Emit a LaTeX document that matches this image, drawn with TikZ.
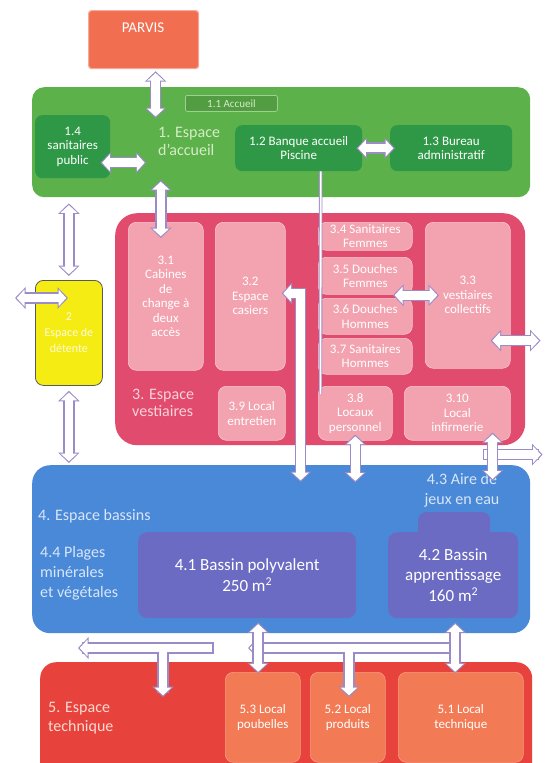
\documentclass[tikz,border=0pt]{standalone}
\usepackage{fontspec}
\setmainfont{Carlito}
\usetikzlibrary{arrows.meta,calc}
\definecolor{parvisred}{HTML}{F26E50}
\definecolor{accueilgreen}{HTML}{5DB14A}
\definecolor{accueildark}{HTML}{2F9847}
\definecolor{accueiltext}{HTML}{D4EDC6}
\definecolor{annexeyellow}{HTML}{F4EC12}
\definecolor{annexetext}{HTML}{FFFBD8}
\definecolor{vestpink}{HTML}{E14B6D}
\definecolor{vestlight}{HTML}{F3A2B0}
\definecolor{vesttext}{HTML}{FAD2DA}
\definecolor{bassinblue}{HTML}{4A89D8}
\definecolor{bassinpurple}{HTML}{6B6BC3}
\definecolor{bassintext}{HTML}{D8E6F8}
\definecolor{techred}{HTML}{E8423C}
\definecolor{techorange}{HTML}{F27B56}
\definecolor{techtext}{HTML}{FBDCD2}
\definecolor{passedge}{HTML}{9B8BC6}
\begin{document}
\begin{tikzpicture}[x=1pt,y=-1pt,
  zone/.style={rounded corners=#1,anchor=north west,inner sep=0pt,align=center},
  wh/.style 2 args={minimum width=#1pt,minimum height=#2pt},
  roomtext/.style={text=white,font=\fontsize{13}{14.5}\selectfont},
  greenroom/.style={zone=7pt,fill=accueildark,roomtext},
  pinkroom/.style={zone=8pt,fill=vestlight,draw=vestlight!60!white,line width=0.6pt,roomtext},
  poolroom/.style={zone=9pt,fill=bassinpurple,text=white,font=\fontsize{17}{20.5}\selectfont},
  techroom/.style={zone=8pt,fill=techorange,draw=techorange!75!white,line width=0.6pt,roomtext},
  zonelabel/.style={anchor=west,align=left,inner sep=0pt},
  edgeboth/.style={draw=passedge,line width=11.5pt,{Triangle[width=21pt,length=10.5pt]}-{Triangle[width=21pt,length=10.5pt]}},
  fillboth/.style={draw=white,line width=8.5pt,{Triangle[width=16.5pt,length=7.8pt]}-{Triangle[width=16.5pt,length=7.8pt]},shorten <=1.7pt,shorten >=1.7pt},
  edgeend/.style={draw=passedge,line width=11.5pt,-{Triangle[width=21pt,length=10.5pt]},line cap=rect},
  fillend/.style={draw=white,line width=8.5pt,-{Triangle[width=16.5pt,length=7.8pt]},shorten >=1.7pt,line cap=rect},
  passboth/.style={fillboth,preaction={edgeboth,shorten <=0pt,shorten >=0pt}},
  passend/.style={fillend,preaction={edgeend,shorten >=0pt}},
  cable/.style={draw=passedge,double=white,double distance=1.8pt,line width=0.8pt}]
\useasboundingbox (0,0) rectangle (547,763);
\clip (0,0) rectangle (547,763);
\node[zone=3pt,fill=parvisred,draw=parvisred!60!white,line width=1.2pt,wh={110}{58}] (parvis) at (88,10) {};
\node[text=white,font=\fontsize{15}{17}\selectfont] (parvislbl) at (143,28) {PARVIS};
\node[zone=12pt,fill=accueilgreen,wh={498}{110}] (accueil) at (32,87) {};
\node[zone=2pt,fill=accueilgreen!88!black,draw=accueilgreen!60!white,line width=0.8pt,wh={92}{16},text=accueiltext,font=\fontsize{11}{12}\selectfont] (a11) at (185,95) {1.1 Accueil};
\node[greenroom,wh={75}{63}] (a14) at (35,115) {1.4\\sanitaires\\public};
\node[zonelabel,text=accueiltext,font=\fontsize{16}{18}\selectfont] (accueillbl) at (158,141) {1. Espace\\d'accueil};
\node[greenroom,wh={127}{46}] (a12) at (235,125) {1.2 Banque accueil\\Piscine};
\node[greenroom,wh={122}{46}] (a13) at (390,125) {1.3 Bureau\\administratif};
\node[zone=8pt,fill=annexeyellow,draw=black!65,line width=0.8pt,wh={67}{105},text=annexetext,font=\fontsize{12}{16}\selectfont] (annexe) at (35,280) {2\\Espace de\\détente};
\node[zone=22pt,fill=vestpink,wh={410}{232}] (vest) at (115,213) {};
\node[pinkroom,wh={75}{148}] (v31) at (128,222) {3.1\\Cabines\\de\\change à\\deux\\accès};
\node[pinkroom,wh={70}{148}] (v32) at (215,222) {3.2\\Espace\\casiers};
\node[pinkroom,wh={94}{28}] (v34) at (318,222) {3.4 Sanitaires\\Femmes};
\node[pinkroom,wh={94}{37}] (v35) at (318,257) {3.5 Douches\\Femmes};
\node[pinkroom,wh={94}{36}] (v36) at (318,298) {3.6 Douches\\Hommes};
\node[pinkroom,wh={94}{36}] (v37) at (318,338) {3.7 Sanitaires\\Hommes};
\node[pinkroom,wh={85}{146}] (v33) at (425,222) {3.3\\vestiaires\\collectifs};
\node[pinkroom,wh={67}{54}] (v39) at (218,386) {3.9 Local\\entretien};
\node[pinkroom,wh={74}{54}] (v38) at (318,386) {3.8\\Locaux\\personnel};
\node[pinkroom,wh={106}{54}] (v310) at (404,386) {3.10\\Local\\infirmerie};
\node[zonelabel,text=vesttext,font=\fontsize{16}{17.5}\selectfont] (vestlbl) at (132,403) {3. Espace\\vestiaires};
\node[zone=18pt,fill=bassinblue,wh={498}{168}] (bassins) at (32,465) {};
\node[zone=8pt,fill=bassinpurple,wh={72}{30}] (b43) at (418,512) {};
\node[poolroom,wh={218}{86}] (b41) at (138,532) {4.1 Bassin polyvalent\\250 m\textsuperscript{2}};
\node[poolroom,wh={130}{86}] (b42) at (388,532) {4.2 Bassin\\apprentissage\\160 m\textsuperscript{2}};
\node[align=center,inner sep=0pt,text=bassintext,font=\fontsize{16}{20}\selectfont] (b43lbl) at (462,490) {4.3 Aire de\\jeux en eau};
\node[zonelabel,text=bassintext,font=\fontsize{16}{19}\selectfont] (bassinslbl) at (38,516) {4. Espace bassins};
\node[zonelabel,text=bassintext,font=\fontsize{16}{20}\selectfont] (b44lbl) at (40,573) {4.4 Plages\\minérales\\et végétales};
\node[zone=16pt,fill=techred,wh={492}{140}] (tech) at (40,662) {};
\node[techroom,wh={75}{90}] (t53) at (225,672) {5.3 Local\\poubelles};
\node[techroom,wh={75}{90}] (t52) at (310,672) {5.2 Local\\produits};
\node[techroom,wh={125}{90}] (t51) at (398,672) {5.1 Local\\technique};
\node[zonelabel,text=techtext,font=\fontsize{16}{19.5}\selectfont] (techlbl) at (48,718) {5. Espace\\technique};
\draw[passboth] ($(parvis.south)+(12,2)$) -- ($(parvis.south)+(12,49)$);
\draw[passboth] ($(a14.east)+(-10,16)$) -- ($(a14.east)+(36,16)$);
\draw[passboth] ($(a12.east)+(-6,0)$) -- ($(a13.west)+(5,0)$);
\draw[passboth] ($(v31.north)+(-5,-42)$) -- ($(v31.north)+(-5,16)$);
\draw[cable] ($(a12.south)+(22,0)$) -- ($(v38.north west)+(2.5,8)$);
\draw[passboth] ($(accueil.south -| annexe.north)+(0,6)$) -- ($(annexe.north)+(0,-4)$);
\draw[passboth] ($(annexe.north west)+(-20,18)$) -- ($(annexe.north west)+(33,18)$);
\draw[passboth] ($(annexe.south)+(0,5)$) -- ($(annexe.south |- bassins.north)+(0,-2)$);
\draw[passboth] ($(v32.east)+(-4,-3)$) -- ($(v32.east)+(15,-3)$) -- ($(v32.east |- bassins.north)+(15,17)$);
\draw[passboth] ($(v33.west)+(-32,0)$) -- ($(v33.west)+(14,0)$);
\draw[passboth] ($(v33.south east)+(-20,-28)$) -- ($(v33.south east)+(30,-28)$);
\draw[passboth] ($(v38.south)+(0,-6)$) -- ($(v38.south)+(0,42)$);
\draw[passend] ($(v310.south east)+(-22,14)$) -- ($(v310.south east)+(32,14)$);
\draw[passboth] ($(v310.south east)+(-18,-8)$) -- ($(v310.south east)+(-18,40)$);
\draw[edgeend] ($(tech.north west)+(168,-14)$) -- ($(tech.north west)+(38,-14)$);
\draw[edgeend] ($(tech.north west)+(123,-14)$) -- ($(tech.north west)+(123,35)$);
\draw[edgeend] ($(tech.north west)+(410,-14)$) -- ($(tech.north west)+(208,-14)$);
\draw[edgeend] ($(tech.north west)+(309,-14)$) -- ($(tech.north west)+(309,35)$);
\draw[fillend] ($(tech.north west)+(168,-14)$) -- ($(tech.north west)+(38,-14)$);
\draw[fillend] ($(tech.north west)+(123,-14)$) -- ($(tech.north west)+(123,35)$);
\draw[fillend] ($(tech.north west)+(410,-14)$) -- ($(tech.north west)+(208,-14)$);
\draw[fillend] ($(tech.north west)+(309,-14)$) -- ($(tech.north west)+(309,35)$);
\draw[passboth] ($(b41.south)+(11,4)$) -- ($(b41.south)+(11,55)$);
\draw[passboth] ($(b42.south)+(2,4)$) -- ($(b42.south)+(2,55)$);
\end{tikzpicture}
\end{document}
